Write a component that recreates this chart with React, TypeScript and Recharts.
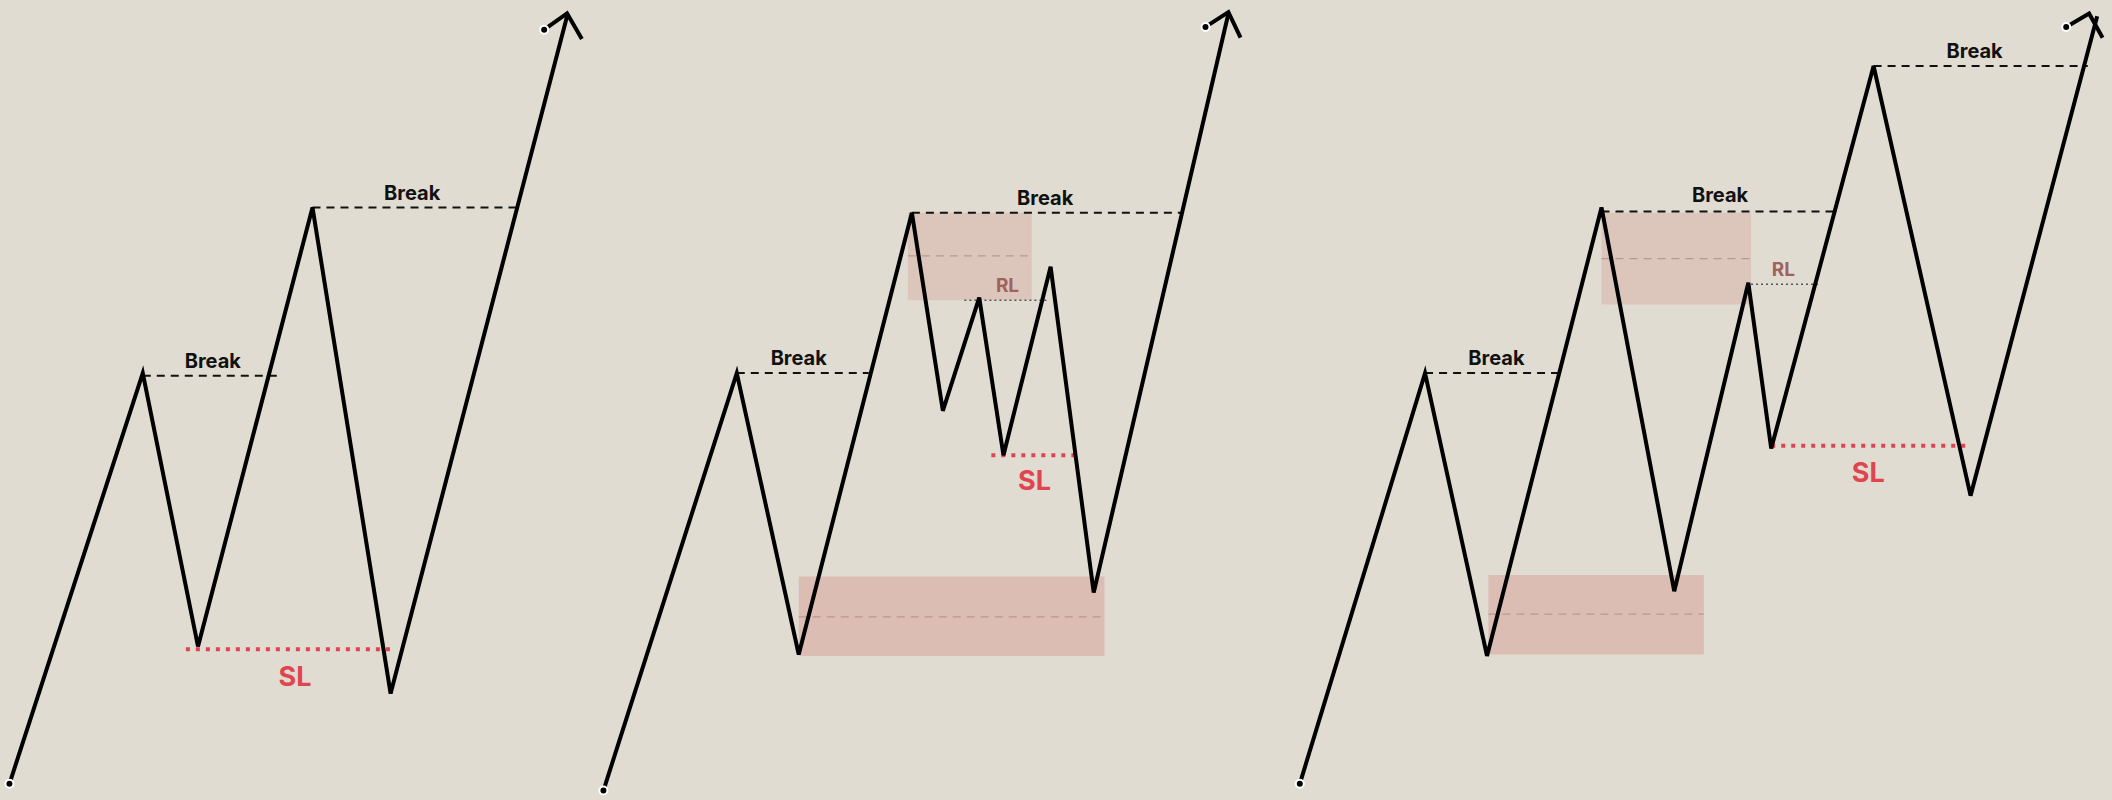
import React from 'react';
import { LineChart, Line, XAxis, YAxis, ReferenceLine, ReferenceArea, ReferenceDot } from 'recharts';

if (typeof document !== 'undefined') document.body.style.margin = '0';

const path1 = [[7,582],[106,277],[147,480],[232,154],[290,515],[421,12]];
const arrow1 = [[404,22],[421,10],[432,29]];
const path2 = [[448,587],[547,277],[593,486],[677,158],[700,305],[727,221],[745,338],[780,198],[812,440],[912,10]];
const arrow2 = [[895,20],[912,9],[921,28]];
const path3 = [[965,582],[1058,277],[1104,487],[1189,154],[1243,439],[1298,210],[1315,333],[1391,49],[1463,368],[1557,12]];
const arrow3 = [[1534,20],[1551,10],[1561,28]];

// [x1, x2, y]
const breakLines = [[106,207,279],[232,383,154],[547,645,277],[677,877,158],[1058,1160,277],[1189,1362,157],[1391,1550,49]];
const breakLabels = [[158,268],[306,143],[593,266],[776,147],[1111,266],[1277,145],[1466,38]];
const slLines = [[138,292,482],[736,800,338],[1315,1460,331]];
const slLabels = [[219,502],[768,357],[1387,351]];
const rlLines = [[716,778,223],[1300,1350,211]];
const rlLabels = [[748,212],[1324,200]];
// [x1, x2, y1, y2, midY]
const topBoxes = [[674,766,158,223,190],[1189,1300,158,226,192]];
const bottomBoxes = [[593,820,428,487,458],[1105,1265,427,486,456]];

const toPts = (a: number[][]) => a.map(([x, y]) => ({ x, y }));

const txt = (value: string, size: number, color: string) => (props: any) => {
  const { viewBox } = props;
  const cx = viewBox.x + (viewBox.width || 0) / 2;
  const cy = viewBox.y + (viewBox.height || 0) / 2;
  return (
    <text x={cx} y={cy} textAnchor="middle" dominantBaseline="central" fontFamily="Inter, sans-serif" fontWeight={700} fontSize={size} fill={color}>{value}</text>
  );
};

export default function App() {
  const series = [path1, arrow1, path2, arrow2, path3, arrow3];
  return (
    <div style={{ width: 2112, height: 800, background: '#e0dcd2' }}>
      <LineChart width={2112} height={800} margin={{ top: 0, right: 0, bottom: 0, left: 0 }}>
        <XAxis type="number" dataKey="x" domain={[0, 1568]} hide allowDataOverflow />
        <YAxis type="number" dataKey="y" domain={[0, 594]} reversed hide allowDataOverflow />
        {topBoxes.map(([x1, x2, y1, y2], i) => (
          <ReferenceArea key={'tb' + i} x1={x1} x2={x2} y1={y1} y2={y2} fill="#dcc6bc" fillOpacity={1} stroke="none" />
        ))}
        {bottomBoxes.map(([x1, x2, y1, y2], i) => (
          <ReferenceArea key={'bb' + i} x1={x1} x2={x2} y1={y1} y2={y2} fill="#dcbdb4" fillOpacity={1} stroke="none" />
        ))}
        {[...topBoxes, ...bottomBoxes].map(([x1, x2, , , m], i) => (
          <ReferenceLine key={'mid' + i} segment={[{ x: x1, y: m }, { x: x2, y: m }]} stroke="#b89890" strokeWidth={1.3} strokeDasharray="8 6" />
        ))}
        {breakLines.map(([x1, x2, y], i) => (
          <ReferenceLine key={'br' + i} segment={[{ x: x1, y }, { x: x2, y }]} stroke="#111" strokeWidth={2} strokeDasharray="8 6" />
        ))}
        {slLines.map(([x1, x2, y], i) => (
          <ReferenceLine key={'sl' + i} segment={[{ x: x1, y }, { x: x2, y }]} stroke="#e0454f" strokeWidth={4} strokeDasharray="4 6" />
        ))}
        {rlLines.map(([x1, x2, y], i) => (
          <ReferenceLine key={'rl' + i} segment={[{ x: x1, y }, { x: x2, y }]} stroke="#555" strokeWidth={1.5} strokeDasharray="2 3" />
        ))}
        {series.map((s, i) => (
          <Line key={'ln' + i} data={toPts(s)} dataKey="y" type="linear" stroke="#000" strokeWidth={4} dot={false} isAnimationActive={false} strokeLinejoin="miter" />
        ))}
        {breakLabels.map(([x, y], i) => (
          <ReferenceDot key={'bl' + i} x={x} y={y} r={0} stroke="none" label={txt('Break', 20, '#111')} />
        ))}
        {slLabels.map(([x, y], i) => (
          <ReferenceDot key={'sll' + i} x={x} y={y} r={0} stroke="none" label={txt('SL', 27, '#e0454f')} />
        ))}
        {rlLabels.map(([x, y], i) => (
          <ReferenceDot key={'rll' + i} x={x} y={y} r={0} stroke="none" label={txt('RL', 19, '#a0625c')} />
        ))}
      </LineChart>
    </div>
  );
}
